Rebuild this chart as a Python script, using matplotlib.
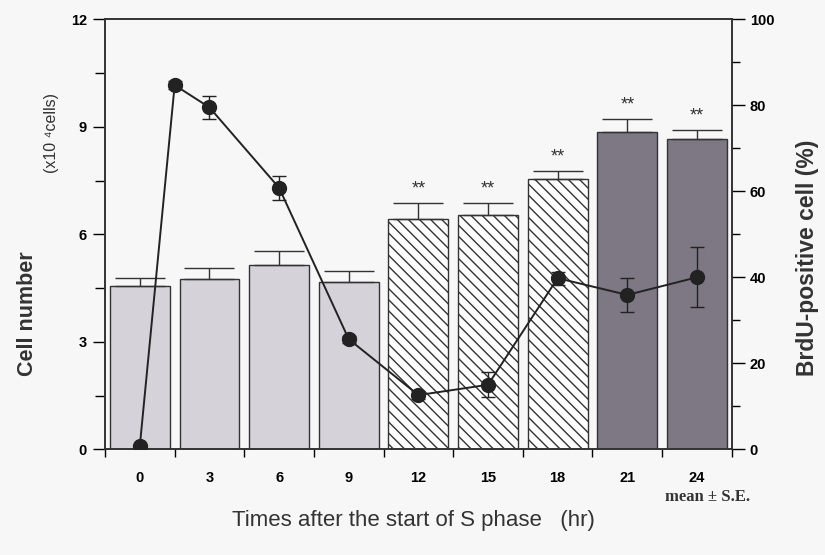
import numpy as np
import matplotlib
matplotlib.use('Agg')
import matplotlib.pyplot as plt

# Cell number bars (x10^4 cells), mean and S.E.
hours = ['0', '3', '6', '9', '12', '15', '18', '21', '24']
cells = [4.56, 4.74, 5.15, 4.66, 6.42, 6.53, 7.53, 8.86, 8.67]
cells_se = [0.22, 0.32, 0.38, 0.31, 0.45, 0.34, 0.23, 0.37, 0.25]
stars = ['', '', '', '', '**', '**', '**', '**', '**']

# BrdU-positive cells (%), mean and S.E.
brdu_hr = [0, 1.5, 3, 6, 9, 12, 15, 18, 21, 24]
brdu = [0.8, 84.7, 79.5, 60.8, 25.6, 12.6, 15.0, 39.8, 35.9, 40.0]
brdu_se = [0.3, 0.9, 2.7, 2.8, 0.8, 1.0, 2.9, 1.5, 4.0, 7.0]

plt.rcParams['font.family'] = ['Liberation Sans', 'DejaVu Sans']
plt.rcParams['hatch.linewidth'] = 1.0
plt.rcParams['hatch.color'] = '#333333'

bg = '#f7f7f7'
fig = plt.figure(figsize=(8.25, 5.55), dpi=100, facecolor=bg)
ax = fig.add_axes([0.1273, 0.1905, 0.7597, 0.7747])
ax.set_facecolor(bg)

x = np.arange(len(hours))
face = ['#d6d2da'] * 4 + ['white'] * 3 + ['#7d7883'] * 2
hatch = [None] * 4 + ['\\\\\\'] * 3 + [None] * 2
bars = ax.bar(x, cells, width=0.86, color=face, edgecolor='#333333', linewidth=1.0, zorder=2)
for b, h in zip(bars, hatch):
    if h:
        b.set_hatch(h)
ax.errorbar(x, cells, yerr=[np.zeros(len(cells)), cells_se], fmt='none',
            ecolor='#333333', elinewidth=1.0, capsize=18, capthick=1.0, zorder=3)
for xi, v, e, s in zip(x, cells, cells_se, stars):
    if s:
        ax.text(xi, v + e + 0.15, s, ha='center', va='bottom', fontsize=13, color='#333333')

ax.set_xlim(-0.5, 8.5)
ax.set_ylim(0, 12)
ax.set_yticks([0, 3, 6, 9, 12])
ax.set_yticks(np.arange(0, 12.1, 1.5), minor=True)
ax.set_xticks(x)
ax.set_xticklabels(hours, fontweight='bold', fontsize=10.5)
ax.set_xticks(np.arange(-0.5, 8.6, 1), minor=True)
ax.tick_params(axis='x', which='major', length=0, pad=16)
ax.tick_params(axis='x', which='minor', length=6, direction='out', width=1)
ax.tick_params(axis='y', which='major', length=9, width=1, labelsize=10.5, pad=4)
ax.tick_params(axis='y', which='minor', length=7, width=1)
for lbl in ax.get_yticklabels():
    lbl.set_fontweight('bold')
for sp in ax.spines.values():
    sp.set_color('#333333')
    sp.set_linewidth(1.2)

ax2 = ax.twinx()
ax2.set_ylim(0, 100)
ax2.set_yticks([0, 20, 40, 60, 80, 100])
ax2.set_yticks(np.arange(0, 101, 10), minor=True)
ax2.tick_params(axis='y', which='major', length=9, width=1, labelsize=10.5, pad=4)
ax2.tick_params(axis='y', which='minor', length=6, width=1)
for lbl in ax2.get_yticklabels():
    lbl.set_fontweight('bold')
for sp in ax2.spines.values():
    sp.set_color('#333333')
    sp.set_linewidth(1.2)
ax2.errorbar(np.array(brdu_hr) / 3, brdu, yerr=brdu_se, fmt='-o', color='#222222',
             ms=10, lw=1.4, elinewidth=1.0, capsize=5, capthick=1.0, zorder=4)

fig.text(0.033, 0.435, 'Cell number', rotation=90, ha='center', va='center',
         fontsize=15.5, fontweight='bold', color='#333333')
fig.text(0.062, 0.76, '(x10 \u2074cells)', rotation=90, ha='center', va='center',
         fontsize=11.5, color='#333333')
fig.text(0.979, 0.535, 'BrdU-positive cell (%)', rotation=90, ha='center', va='center',
         fontsize=16.5, fontweight='bold', color='#333333')
fig.text(0.858, 0.104, 'mean \u00b1 S.E.', ha='center', va='center', fontsize=12,
         fontweight='bold', family=['Liberation Serif', 'DejaVu Serif'], color='#333333')
fig.text(0.501, 0.063, 'Times after the start of S phase   (hr)', ha='center', va='center',
         fontsize=16, family=['Liberation Sans Narrow', 'Liberation Sans'], color='#333333')

fig.savefig('out.png', dpi=100, facecolor=bg)
